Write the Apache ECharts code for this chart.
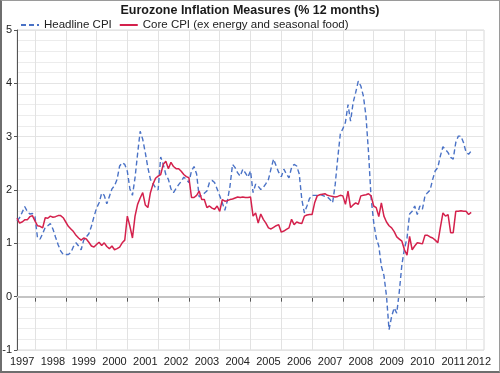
<!DOCTYPE html>
<html><head><meta charset="utf-8">
<script src="https://cdn.jsdelivr.net/npm/echarts@6/dist/echarts.min.js"></script>
<style>
html,body{margin:0;padding:0;background:#fff;}
#c{width:500px;height:373px;}
#f{position:absolute;left:0;top:0;width:500px;height:373px;box-sizing:border-box;border:1px solid #9a9a9a;border-left:2px solid #6e6e6e;border-bottom:2px solid #6e6e6e;pointer-events:none;}
</style>
</head><body><div id="c"></div><div id="f"></div>
<script>
// Monthly categories: first category = May 1997, last = Jul 2012
const firstYear = 1997, firstMonth = 5, monthCount = 183;

const headline = [
 1.42,1.48,1.58,1.69,1.60,1.55,1.56,1.50,1.10,1.08,
 1.18,1.30,1.33,1.37,1.27,1.12,0.98,0.86,0.79,0.79,
 0.79,0.83,0.94,1.01,0.95,0.88,1.06,1.12,1.18,1.32,
 1.50,1.66,1.76,1.94,1.90,1.74,1.88,2.02,2.08,2.20,
 2.45,2.51,2.48,2.35,2.02,1.90,2.23,2.68,3.10,2.95,
 2.70,2.42,2.20,2.12,2.04,2.00,2.62,2.48,2.29,2.20,
 2.02,1.95,2.03,2.10,2.16,2.24,2.20,2.14,2.36,2.44,
 2.30,1.87,1.90,1.94,1.98,2.14,2.18,2.14,2.02,1.89,
 1.76,1.62,1.80,2.07,2.48,2.42,2.32,2.26,2.39,2.32,
 2.24,2.36,1.95,2.11,2.07,2.01,2.05,2.12,2.20,2.40,
 2.58,2.45,2.33,2.25,2.39,2.30,2.23,2.42,2.48,2.45,
 2.30,1.82,1.57,1.70,1.84,1.90,1.90,1.90,1.92,1.90,
 1.88,1.87,1.82,1.76,2.10,2.60,3.05,3.15,3.27,3.60,
 3.29,3.64,3.83,4.04,3.95,3.76,3.39,2.70,1.85,1.40,
 1.10,0.95,0.57,0.40,0.01,-0.62,-0.37,-0.21,-0.31,0.10,
 0.60,0.90,1.10,1.55,1.60,1.70,1.54,1.70,1.64,1.89,
 1.95,2.00,2.20,2.36,2.42,2.64,2.81,2.76,2.70,2.61,
 2.58,2.89,3.01,3.01,2.89,2.71,2.67,2.73
];

const core = [
 1.47,1.38,1.40,1.44,1.44,1.50,1.52,1.42,1.33,1.32,
 1.29,1.48,1.47,1.51,1.49,1.50,1.52,1.52,1.48,1.40,
 1.32,1.27,1.22,1.15,1.10,1.06,1.10,1.08,1.02,0.95,
 0.93,0.98,1.02,0.96,1.01,0.94,0.90,0.95,0.88,0.90,
 0.93,1.01,1.06,1.51,1.32,1.10,1.51,1.73,1.85,1.95,
 1.72,1.67,1.95,2.11,2.22,2.26,2.29,2.48,2.54,2.40,
 2.52,2.44,2.40,2.40,2.35,2.29,2.25,2.23,1.86,1.86,
 1.90,1.98,1.82,1.82,1.67,1.70,1.66,1.64,1.70,1.60,
 1.82,1.79,1.80,1.82,1.83,1.85,1.87,1.86,1.87,1.86,
 1.86,1.87,1.51,1.57,1.38,1.55,1.45,1.38,1.29,1.27,
 1.30,1.33,1.35,1.21,1.23,1.26,1.29,1.45,1.35,1.40,
 1.38,1.37,1.51,1.53,1.54,1.54,1.76,1.89,1.91,1.92,
 1.93,1.90,1.89,1.88,1.87,1.88,1.90,1.89,1.73,1.98,
 1.67,1.72,1.76,1.73,1.89,1.90,1.91,1.93,1.89,1.70,
 1.67,1.50,1.76,1.51,1.40,1.33,1.29,1.22,1.12,1.08,
 1.04,0.88,0.78,1.13,0.88,0.95,1.01,1.00,0.99,1.15,
 1.15,1.12,1.10,1.06,1.01,1.30,1.57,1.51,1.54,1.20,
 1.20,1.60,1.60,1.61,1.60,1.60,1.54,1.58
];

const yTicks = [-1, 0, 1, 2, 3, 4, 5];
const seriesNames = ['Headline CPI', 'Core CPI (ex energy and seasonal food)'];
const titleText = 'Eurozone Inflation Measures (% 12 months)';

const months = [];
for (let k = 0; k < monthCount; k++) {
  const m0 = firstMonth - 1 + k;
  const y = firstYear + Math.floor(m0 / 12);
  const m = (m0 % 12) + 1;
  months.push(y + '-' + (m < 10 ? '0' + m : m));
}
const isYearStart = (i) => months[i].slice(5) === '12';
const isLabel = (i) => (months[i].slice(5) === '07' && i < monthCount - 12) || i === monthCount - 3;

const FONT = '"Liberation Sans", Arial, sans-serif';
const chart = echarts.init(document.getElementById('c'), null, {renderer: 'canvas'});
chart.setOption({
  animation: false,
  backgroundColor: '#ffffff',
  title: {
    text: titleText, left: 'center', top: 2, padding: [2, 5, 2, 5],
    textStyle: {fontSize: 12.5, fontWeight: 'bold', color: '#1a1a1a', fontFamily: FONT}
  },
  legend: {
    left: 20, top: 19, padding: 0, itemWidth: 18, itemHeight: 10, itemGap: 7,
    itemStyle: {opacity: 0, borderWidth: 0},
    textStyle: {fontSize: 11.5, color: '#222', fontFamily: FONT},
    data: seriesNames
  },
  grid: {
    left: 17, right: 16, top: 30, bottom: 23,
    outerBoundsMode: 'none', containLabel: false,
    show: true, borderColor: '#d8d8d8', borderWidth: 1
  },
  xAxis: {
    type: 'category', data: months, boundaryGap: false,
    axisLine: {show: true, lineStyle: {color: '#555', width: 1}},
    axisTick: {show: true, length: 5, interval: (i) => isYearStart(i), lineStyle: {color: '#555'}},
    splitLine: {show: true, interval: (i) => isYearStart(i), lineStyle: {color: '#e2e2e2', width: 1}},
    axisLabel: {
      interval: (i) => isLabel(i), formatter: (v) => v.slice(0, 4),
      fontSize: 11, color: '#222', margin: 6, fontFamily: FONT
    }
  },
  yAxis: {
    type: 'value', min: -1, max: 5, interval: 1,
    axisLine: {show: true, lineStyle: {color: '#555', width: 1}},
    axisTick: {show: true, length: 3, lineStyle: {color: '#555'}},
    axisLabel: {fontSize: 11, color: '#222', margin: 5, fontFamily: FONT,
      formatter: (v) => yTicks.indexOf(v) >= 0 ? String(v) : ''},
    splitLine: {show: true, lineStyle: {color: '#e4e4e4', width: 1}},
    minorTick: {show: false, splitNumber: 5},
    minorSplitLine: {show: true, lineStyle: {color: '#ececec', width: 1}}
  },
  series: [
    {
      name: seriesNames[0], type: 'line', data: headline,
      symbol: 'none', showSymbol: false,
      lineStyle: {color: '#4a72c6', width: 1.4, type: [5, 3]},
      itemStyle: {color: '#4a72c6'},
      z: 3,
      markLine: {
        silent: true, symbol: 'none', label: {show: false},
        lineStyle: {color: '#c4c4c4', width: 2, type: 'solid'},
        data: [{yAxis: 0}]
      }
    },
    {
      name: seriesNames[1], type: 'line', data: core,
      symbol: 'none', showSymbol: false,
      lineStyle: {color: '#d4214c', width: 1.5},
      itemStyle: {color: '#d4214c'},
      z: 4
    }
  ]
});
</script>
</body></html>
